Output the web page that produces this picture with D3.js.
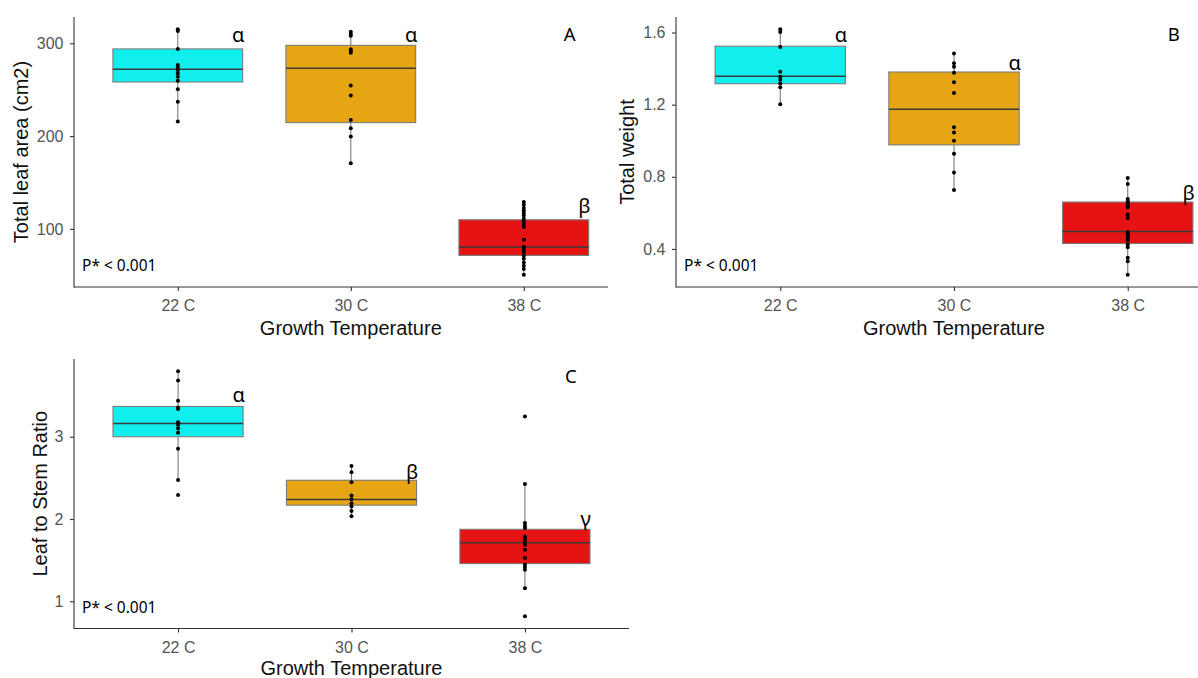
<!DOCTYPE html>
<html>
<head>
<meta charset="utf-8">
<script src="https://cdn.jsdelivr.net/npm/d3@7"></script>
<style>
  body { margin: 0; background: #fff; }
  svg { display: block; }
</style>
</head>
<body>
<svg id="chart" width="1198" height="678"></svg>
<script>
const categories = ["22 C", "30 C", "38 C"];
const fills = ["#10EEEE", "#E6A614", "#E51313"];

// panel A - total leaf area
const leafAreaPoints = [
    [315.1, 313.2, 293.9, 276.6, 274.2, 271.3, 267.7, 264.0, 259.7, 250.5, 237.1, 215.6],
    [312.5, 310.0, 308.2, 293.5, 291.7, 289.9, 254.4, 243.6, 217.4, 208.5, 199.5, 170.8],
    [128.9, 126.0, 122.4, 119.8, 117.0, 114.4, 110.9, 108.0, 105.2, 101.9, 88.3, 80.4, 77.5, 75.0, 71.4, 67.8, 63.8, 60.3, 56.7, 50.6]
];
const leafAreaQ1 = [258.3, 214.5, 71.4];
const leafAreaMedian = [272.0, 273.0, 80.4];
const leafAreaQ3 = [293.9, 297.8, 109.8];
const leafAreaLetters = ["α", "α", "β"];
const leafAreaLetterY = [301, 301, 117.5];
const leafAreaTicks = [100, 200, 300];

// panel B - total weight
const weightPoints = [
    [1.618, 1.603, 1.520, 1.382, 1.355, 1.338, 1.318, 1.296, 1.202],
    [1.484, 1.429, 1.410, 1.377, 1.324, 1.265, 1.075, 1.045, 1.000, 0.928, 0.824, 0.727],
    [0.793, 0.760, 0.677, 0.664, 0.655, 0.642, 0.631, 0.591, 0.572, 0.493, 0.480, 0.471, 0.458, 0.447, 0.425, 0.410, 0.351, 0.332, 0.257]
];
const weightQ1 = [1.316, 0.977, 0.430];
const weightMedian = [1.357, 1.174, 0.496];
const weightQ3 = [1.524, 1.381, 0.660];
const weightLetters = ["α", "α", "β"];
const weightLetterY = [1.545, 1.392, 0.673];
const weightTicks = [0.4, 0.8, 1.2, 1.6];

// panel C - leaf to stem ratio
const ratioPoints = [
    [3.796, 3.683, 3.436, 3.356, 3.336, 3.175, 3.142, 3.100, 3.048, 2.855, 2.475, 2.293],
    [2.645, 2.568, 2.447, 2.285, 2.241, 2.193, 2.152, 2.096, 2.035],
    [3.247, 2.427, 1.950, 1.918, 1.890, 1.788, 1.760, 1.727, 1.687, 1.627, 1.526, 1.445, 1.417, 1.384, 1.158, 0.818]
];
const ratioQ1 = [3.000, 2.168, 1.458];
const ratioMedian = [3.162, 2.236, 1.712];
const ratioQ3 = [3.368, 2.471, 1.875];
const ratioLetters = ["α", "β", "γ"];
const ratioLetterY = [3.424, 2.487, 1.918];
const ratioTicks = [1, 2, 3];

const svg = d3.select("#chart");
const defs = svg.append("defs");

function drawPanel(opts) {
    const g = svg.append("g");
    if (opts.clipRight) {
        defs.append("clipPath").attr("id", opts.id + "-clip")
            .append("rect")
            .attr("x", 0).attr("y", 0)
            .attr("width", opts.clipRight).attr("height", 678);
        g.attr("clip-path", `url(#${opts.id}-clip)`);
    }

    const x = d3.scalePoint()
        .domain(categories)
        .range([opts.left, opts.right])
        .padding(0.6);
    const step = x.step();

    const all = opts.points.flat();
    const [lo, hi] = d3.extent(all);
    const pad = (hi - lo) * 0.05;
    const y = d3.scaleLinear()
        .domain([lo - pad, hi + pad])
        .range([opts.bottom, opts.top]);

    const boxes = categories.map((c, i) => {
        const q1 = opts.q1[i], q3 = opts.q3[i];
        const iqr = q3 - q1;
        const inside = opts.points[i].filter(v => v >= q1 - 1.5 * iqr && v <= q3 + 1.5 * iqr);
        return {
            cat: c, q1: q1, q3: q3, med: opts.median[i],
            wLo: d3.min(inside), wHi: d3.max(inside), fill: fills[i]
        };
    });

    const boxW = step * 0.75;

    // whiskers
    g.selectAll(".whisker-hi")
        .data(boxes)
        .enter()
        .append("line")
        .attr("x1", d => x(d.cat)).attr("x2", d => x(d.cat))
        .attr("y1", d => y(d.q3)).attr("y2", d => y(d.wHi))
        .attr("stroke", "#6e6e6e")
        .attr("stroke-width", 1);
    g.selectAll(".whisker-lo")
        .data(boxes)
        .enter()
        .append("line")
        .attr("x1", d => x(d.cat)).attr("x2", d => x(d.cat))
        .attr("y1", d => y(d.q1)).attr("y2", d => y(d.wLo))
        .attr("stroke", "#6e6e6e")
        .attr("stroke-width", 1);

    g.selectAll(".box")
        .data(boxes)
        .enter()
        .append("rect")
        .attr("x", d => x(d.cat) - boxW / 2)
        .attr("width", boxW)
        .attr("y", d => y(d.q3))
        .attr("height", d => y(d.q1) - y(d.q3))
        .attr("fill", d => d.fill)
        .attr("stroke", "#7a7a7a")
        .attr("stroke-width", 1.1);

    g.selectAll(".median")
        .data(boxes)
        .enter()
        .append("line")
        .attr("x1", d => x(d.cat) - boxW / 2)
        .attr("x2", d => x(d.cat) + boxW / 2)
        .attr("y1", d => y(d.med)).attr("y2", d => y(d.med))
        .attr("stroke", "#3a3a3a")
        .attr("stroke-width", 1.5);

    const pts = [];
    opts.points.forEach((arr, i) => arr.forEach(v => pts.push({ cat: categories[i], v: v })));
    g.selectAll(".pt")
        .data(pts)
        .enter()
        .append("circle")
        .attr("cx", d => x(d.cat))
        .attr("cy", d => y(d.v))
        .attr("r", 2)
        .attr("fill", "#000");

    // axes
    const yAxis = g.append("g")
        .attr("transform", `translate(${opts.left},0)`)
        .call(d3.axisLeft(y).tickValues(opts.ticks).tickSize(4).tickPadding(6.5)
            .tickFormat(opts.tickFormat || d3.format("")));
    const xAxis = g.append("g")
        .attr("transform", `translate(0,${opts.bottom})`)
        .call(d3.axisBottom(x).tickSize(4).tickPadding(9));

    [xAxis, yAxis].forEach(a => {
        a.select(".domain").remove();
        a.selectAll(".tick line").attr("stroke", "#333").attr("stroke-width", 1.1);
        a.selectAll(".tick text")
            .attr("fill", "#555")
            .style("font-family", "'Liberation Sans', Arial, sans-serif")
            .style("font-size", "16px");
    });

    g.append("line")
        .attr("x1", opts.left).attr("x2", opts.right)
        .attr("y1", opts.bottom).attr("y2", opts.bottom)
        .attr("stroke", "#333").attr("stroke-width", 1.1);
    g.append("line")
        .attr("x1", opts.left).attr("x2", opts.left)
        .attr("y1", opts.top).attr("y2", opts.bottom + 0.55)
        .attr("stroke", "#333").attr("stroke-width", 1.1);

    // titles
    g.append("text")
        .attr("x", (opts.left + opts.right) / 2)
        .attr("y", opts.xTitleY)
        .attr("text-anchor", "middle")
        .style("font-family", "'Liberation Sans', Arial, sans-serif")
        .style("font-size", "20px")
        .attr("fill", "#111")
        .text("Growth Temperature");

    g.append("text")
        .attr("transform", `translate(${opts.yTitleX},${(opts.top + opts.bottom) / 2}) rotate(-90)`)
        .attr("text-anchor", "middle")
        .style("font-family", "'Liberation Sans', Arial, sans-serif")
        .style("font-size", "20px")
        .attr("fill", "#111")
        .text(opts.yTitle);

    // significance letters
    g.selectAll(".letter")
        .data(boxes)
        .enter()
        .append("text")
        .attr("x", d => x(d.cat) + step * 0.35)
        .attr("y", (d, i) => y(opts.letterY[i]))
        .attr("text-anchor", "middle")
        .style("font-family", "'Noto Sans', sans-serif")
        .style("font-size", "20px")
        .attr("fill", "#000")
        .text((d, i) => opts.letters[i]);

    g.append("text")
        .attr("x", x(categories[2]) + step * 0.265)
        .attr("y", opts.top + 24)
        .attr("text-anchor", "middle")
        .style("font-family", "'Noto Sans', sans-serif")
        .style("font-size", "18.5px")
        .attr("fill", "#000")
        .text(opts.panel);

    g.append("text")
        .attr("x", opts.left + 8)
        .attr("y", opts.bottom - 16)
        .style("font-family", "'Noto Sans', sans-serif")
        .style("font-size", "15.5px")
        .attr("fill", "#000")
        .text("P* < 0.001");
}

drawPanel({
    id: "a", panel: "A",
    left: 74, right: 627.6, top: 17, bottom: 287, clipRight: 608,
    points: leafAreaPoints, q1: leafAreaQ1, median: leafAreaMedian, q3: leafAreaQ3,
    letters: leafAreaLetters, letterY: leafAreaLetterY, ticks: leafAreaTicks,
    yTitle: "Total leaf area (cm2)", yTitleX: 27.6, xTitleY: 335
});

drawPanel({
    id: "b", panel: "B",
    left: 676, right: 1232, top: 17, bottom: 287,
    points: weightPoints, q1: weightQ1, median: weightMedian, q3: weightQ3,
    letters: weightLetters, letterY: weightLetterY, ticks: weightTicks,
    tickFormat: d3.format(".1f"),
    yTitle: "Total weight", yTitleX: 634.3, xTitleY: 335
});

drawPanel({
    id: "c", panel: "C",
    left: 74, right: 629, top: 359, bottom: 628.5,
    points: ratioPoints, q1: ratioQ1, median: ratioMedian, q3: ratioQ3,
    letters: ratioLetters, letterY: ratioLetterY, ticks: ratioTicks,
    yTitle: "Leaf to Stem Ratio", yTitleX: 46.6, xTitleY: 675
});
</script>
</body>
</html>
